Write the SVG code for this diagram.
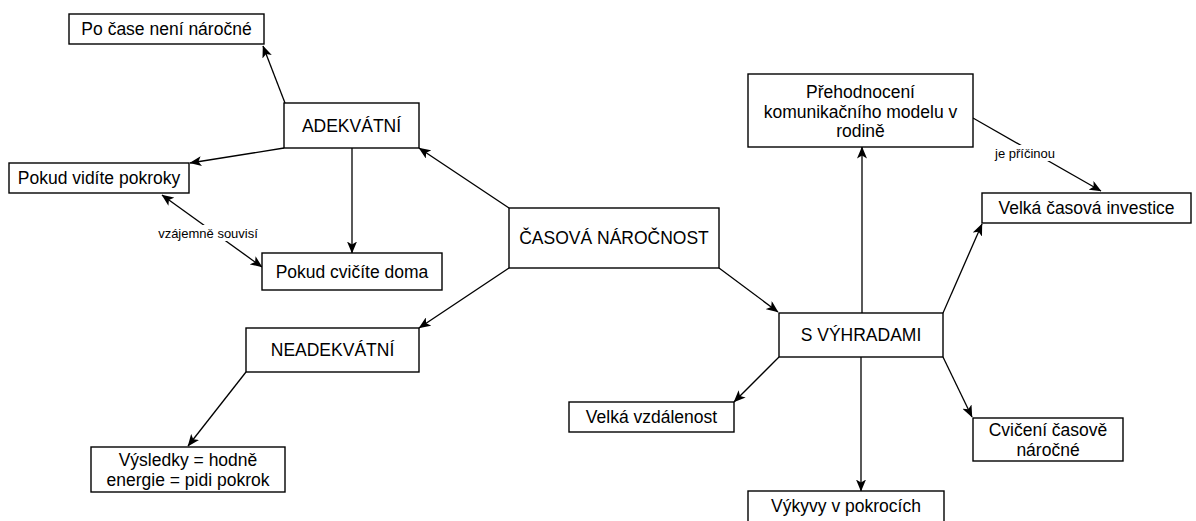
<svg xmlns="http://www.w3.org/2000/svg" width="1196" height="521" viewBox="0 0 1196 521">
  <defs>
    <marker id="arrow" viewBox="0 0 12 10" refX="11.5" refY="5" markerWidth="12" markerHeight="10" markerUnits="userSpaceOnUse" orient="auto-start-reverse">
      <path d="M0,0 L12,5 L0,10 L3,5 Z" fill="#000"/>
    </marker>
  </defs>
  <style>
    .box { fill: #fff; stroke: #000; stroke-width: 1.4; }
    .t { font-family: "Liberation Sans", Arial, sans-serif; font-size: 17.5px; fill: #000; text-anchor: middle; dominant-baseline: central; }
    .lbl { font-family: "Liberation Sans", Arial, sans-serif; font-size: 13px; fill: #000; text-anchor: middle; dominant-baseline: central; }
    .edge { fill: none; stroke: #000; stroke-width: 1.3; }
    .arr { marker-end: url(#arrow); }
    .both { marker-start: url(#arrow); marker-end: url(#arrow); }
  </style>
  <rect width="1196" height="521" fill="#fff"/>

  <!-- connectors -->
  <g id="connectors">
    <line class="edge arr" x1="285" y1="103" x2="263" y2="46"/>
    <line class="edge arr" x1="284" y1="148" x2="190" y2="163"/>
    <line class="edge arr" x1="352" y1="148" x2="352" y2="253"/>
    <line class="edge both" x1="162" y1="195" x2="262" y2="267"/>
    <rect x="156" y="225" width="104" height="16" fill="#fff"/>
    <text class="lbl" x="208" y="233">vzájemně souvisí</text>
    <line class="edge arr" x1="509" y1="208" x2="419" y2="148"/>
    <line class="edge arr" x1="509" y1="268" x2="419" y2="328"/>
    <line class="edge arr" x1="246" y1="372" x2="188" y2="446"/>
    <line class="edge arr" x1="719" y1="268" x2="778" y2="312"/>
    <line class="edge arr" x1="862" y1="313" x2="862" y2="147"/>
    <line class="edge arr" x1="973" y1="118" x2="1101" y2="191"/>
    <rect x="990" y="145" width="70" height="16" fill="#fff"/>
    <text class="lbl" x="1025" y="153">je příčinou</text>
    <line class="edge arr" x1="943" y1="313" x2="982" y2="224"/>
    <line class="edge arr" x1="779" y1="357" x2="734" y2="402"/>
    <line class="edge arr" x1="861" y1="357" x2="861" y2="491"/>
    <line class="edge arr" x1="943" y1="357" x2="972" y2="417"/>
  </g>

  <!-- nodes -->
  <g id="po-case">
    <rect class="box" x="69" y="14" width="195" height="30"/>
    <text class="t" x="166.5" y="29">Po čase není náročné</text>
  </g>
  <g id="adekvatni">
    <rect class="box" x="284" y="103" width="135" height="45"/>
    <text class="t" x="351.5" y="125.5">ADEKVÁTNÍ</text>
  </g>
  <g id="pokud-vidite">
    <rect class="box" x="9" y="163" width="180" height="30"/>
    <text class="t" x="99" y="178">Pokud vidíte pokroky</text>
  </g>
  <g id="pokud-cvicite">
    <rect class="box" x="262" y="253" width="180" height="37"/>
    <text class="t" x="352" y="271.5">Pokud cvičíte doma</text>
  </g>
  <g id="neadekvatni">
    <rect class="box" x="246" y="328" width="173" height="44"/>
    <text class="t" x="332.5" y="350">NEADEKVÁTNÍ</text>
  </g>
  <g id="vysledky">
    <rect class="box" x="91" y="447" width="194" height="45"/>
    <text class="t" x="188" y="460">Výsledky = hodně</text>
    <text class="t" x="188" y="480">energie = pidi pokrok</text>
  </g>
  <g id="casova-narocnost">
    <rect class="box" x="509" y="208" width="210" height="60"/>
    <text class="t" x="614" y="238">ČASOVÁ NÁROČNOST</text>
  </g>
  <g id="s-vyhradami">
    <rect class="box" x="779" y="313" width="164" height="44"/>
    <text class="t" x="861" y="335">S VÝHRADAMI</text>
  </g>
  <g id="prehodnoceni">
    <rect class="box" x="748" y="74" width="225" height="73"/>
    <text class="t" x="860.5" y="92">Přehodnocení</text>
    <text class="t" x="860.5" y="111.5">komunikačního modelu v</text>
    <text class="t" x="860.5" y="131">rodině</text>
  </g>
  <g id="velka-casova-investice">
    <rect class="box" x="982" y="193" width="209" height="30"/>
    <text class="t" x="1086.5" y="208">Velká časová investice</text>
  </g>
  <g id="velka-vzdalenost">
    <rect class="box" x="569" y="402" width="165" height="30"/>
    <text class="t" x="651.5" y="417">Velká vzdálenost</text>
  </g>
  <g id="vykyvy">
    <rect class="box" x="748" y="491" width="196" height="34"/>
    <text class="t" x="846" y="506">Výkyvy v pokrocích</text>
  </g>
  <g id="cviceni-casove">
    <rect class="box" x="973" y="418" width="150" height="43"/>
    <text class="t" x="1048" y="430">Cvičení časově</text>
    <text class="t" x="1048" y="449.5">náročné</text>
  </g>
</svg>
